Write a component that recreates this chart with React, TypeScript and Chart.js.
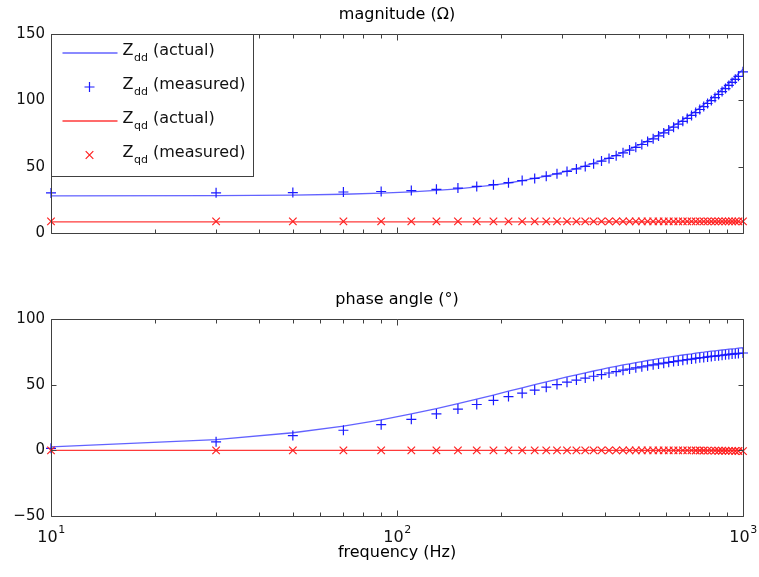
import React, { useEffect, useRef } from "react";
import { Chart, registerables } from "chart.js";

Chart.register(...registerables);

// ---------------- data ----------------
const freqHz = [10, 30, 50, 70, 90, 110, 130, 150, 170, 190, 210, 230, 250, 270, 290, 310, 330, 350, 370, 390, 410, 430, 450, 470, 490, 510, 530, 550, 570, 590, 610, 630, 650, 670, 690, 710, 730, 750, 770, 790, 810, 830, 850, 870, 890, 910, 930, 950, 970, 1000];

const zddMagActual = [28.0, 28.2, 28.6, 29.2, 30.0, 31.0, 32.1, 33.3, 34.7, 36.1, 37.7, 39.4, 41.1, 42.9, 44.7, 46.6, 48.6, 50.6, 52.6, 54.6, 56.7, 58.8, 60.9, 63.1, 65.3, 67.4, 69.6, 71.8, 74.1, 76.3, 78.5, 80.8, 83.1, 85.3, 87.6, 89.9, 92.2, 94.5, 96.8, 99.1, 101.4, 103.7, 106.0, 108.3, 110.7, 113.0, 115.3, 117.7, 120.0, 123.5];
const zddMagMeasured = [30.2, 30.3, 30.5, 30.9, 31.3, 32.0, 32.9, 33.9, 35.1, 36.4, 37.9, 39.5, 41.1, 42.8, 44.6, 46.4, 48.3, 50.2, 52.2, 54.2, 56.2, 58.3, 60.4, 62.5, 64.6, 66.7, 68.9, 71.0, 73.2, 75.4, 77.6, 79.8, 82.0, 84.2, 86.4, 88.6, 90.8, 93.1, 95.3, 97.6, 99.8, 102.1, 104.4, 106.6, 108.9, 111.2, 113.5, 115.8, 118.1, 121.5];
const zqdMagActual = [8.4, 8.4, 8.4, 8.4, 8.4, 8.4, 8.4, 8.4, 8.4, 8.4, 8.4, 8.4, 8.4, 8.4, 8.4, 8.4, 8.4, 8.4, 8.4, 8.4, 8.4, 8.4, 8.4, 8.4, 8.4, 8.4, 8.4, 8.4, 8.4, 8.4, 8.4, 8.4, 8.4, 8.4, 8.4, 8.4, 8.4, 8.4, 8.4, 8.4, 8.4, 8.4, 8.4, 8.4, 8.4, 8.4, 8.4, 8.4, 8.4, 8.4];
const zqdMagMeasured = [8.8, 8.8, 8.8, 8.8, 8.8, 8.8, 8.8, 8.8, 8.8, 8.8, 8.8, 8.8, 8.8, 8.8, 8.8, 8.8, 8.8, 8.8, 8.8, 8.8, 8.8, 8.8, 8.8, 8.8, 8.8, 8.8, 8.8, 8.8, 8.8, 8.8, 8.8, 8.8, 8.8, 8.8, 8.8, 8.8, 8.8, 8.8, 8.8, 8.8, 8.8, 8.8, 8.8, 8.8, 8.8, 8.8, 8.8, 8.8, 8.8, 8.8];

const zddPhaseActual = [2.7, 8.1, 13.4, 18.4, 23.2, 27.7, 31.8, 35.5, 39.0, 42.1, 45.0, 47.6, 50.0, 52.1, 54.1, 55.9, 57.5, 59.0, 60.4, 61.7, 62.9, 64.0, 65.0, 65.9, 66.8, 67.6, 68.4, 69.1, 69.8, 70.4, 71.0, 71.6, 72.1, 72.6, 73.1, 73.5, 74.0, 74.4, 74.7, 75.1, 75.5, 75.8, 76.1, 76.4, 76.7, 77.0, 77.3, 77.5, 77.8, 78.1];
const zddPhaseMeasured = [1.5, 6.5, 11.2, 15.3, 19.5, 23.6, 27.7, 31.4, 34.9, 38.1, 40.9, 43.5, 45.9, 48.1, 50.1, 51.9, 53.5, 55.0, 56.4, 57.7, 58.9, 60.0, 61.0, 61.9, 62.8, 63.6, 64.4, 65.1, 65.8, 66.4, 67.0, 67.6, 68.1, 68.6, 69.1, 69.5, 70.0, 70.4, 70.7, 71.1, 71.5, 71.8, 72.1, 72.4, 72.7, 73.0, 73.3, 73.5, 73.8, 74.1];
const zqdPhaseActual = [0, 0, 0, 0, 0, 0, 0, 0, 0, 0, 0, 0, 0, 0, 0, 0, 0, 0, 0, 0, 0, 0, 0, 0, 0, 0, 0, 0, 0, 0, 0, 0, 0, 0, 0, 0, 0, 0, 0, 0, 0, 0, 0, 0, 0, 0, 0, 0, 0, 0];
const zqdPhaseMeasured = [0, 0, 0, 0, 0, 0, 0, 0, 0, 0, 0, 0, 0, 0, 0, 0, 0, 0, 0, 0, 0, 0, 0, 0, 0, 0, 0, 0, 0, 0, 0, 0, 0, 0, 0, 0, -0.1, -0.1, -0.1, -0.2, -0.2, -0.2, -0.3, -0.3, -0.3, -0.4, -0.4, -0.5, -0.5, -0.6];

const magTicks = [0, 50, 100, 150];
const phaseTicks = [-50, 0, 50, 100];
const xMajorTicks = [10, 100, 1000];
const xMajorExponents = ["1", "2", "3"];
const xMinorTicks = [20, 30, 40, 50, 60, 70, 80, 90, 200, 300, 400, 500, 600, 700, 800, 900];

const magTitle = "magnitude (\u03A9)";
const phaseTitle = "phase angle (\u00B0)";
const xAxisTitle = "frequency (Hz)";
const legendItems = [
  { base: "Z", sub: "dd", rest: " (actual)" },
  { base: "Z", sub: "dd", rest: " (measured)" },
  { base: "Z", sub: "qd", rest: " (actual)" },
  { base: "Z", sub: "qd", rest: " (measured)" },
];

// ---------------- styles ----------------
const FONT = '"DejaVu Sans", "Liberation Sans", Arial, sans-serif';
const BLUE_LINE = "rgba(70,70,255,0.85)";
const BLUE_MARK = "#1a1aff";
const RED_LINE = "#ff3a3a";
const RED_MARK = "#ff2020";
const AXIS_COLOR = "#404040";

const W = 759;
const TOP_H = 270;
const BOT_H = 307;

function pts(ys: number[]) {
  return freqHz.map((f, i) => ({ x: f, y: ys[i] }));
}

function makeDatasets(a: number[], b: number[], c: number[], d: number[]) {
  return [
    { label: "Zdd (actual)", data: pts(a), borderColor: BLUE_LINE, borderWidth: 1.3, pointRadius: 0, showLine: true, tension: 0, order: 4, clip: false },
    { label: "Zdd (measured)", data: pts(b), borderColor: BLUE_MARK, backgroundColor: BLUE_MARK, borderWidth: 1.2, pointStyle: "cross", pointRadius: 5, pointBorderWidth: 1.2, showLine: false, order: 3, clip: false },
    { label: "Zqd (actual)", data: pts(c), borderColor: RED_LINE, borderWidth: 1.3, pointRadius: 0, showLine: true, tension: 0, order: 2, clip: false },
    { label: "Zqd (measured)", data: pts(d), borderColor: RED_MARK, backgroundColor: RED_MARK, borderWidth: 1.2, pointStyle: "crossRot", pointRadius: 5.3, pointBorderWidth: 1.2, showLine: false, order: 1, clip: false },
  ];
}

function drawMarker(ctx: CanvasRenderingContext2D, kind: string, x: number, y: number, color: string) {
  ctx.save();
  ctx.strokeStyle = color;
  ctx.lineWidth = 1.2;
  ctx.beginPath();
  if (kind === "cross") {
    ctx.moveTo(x - 5, y); ctx.lineTo(x + 5, y);
    ctx.moveTo(x, y - 5); ctx.lineTo(x, y + 5);
  } else {
    const r = 3.8;
    ctx.moveTo(x - r, y - r); ctx.lineTo(x + r, y + r);
    ctx.moveTo(x - r, y + r); ctx.lineTo(x + r, y - r);
  }
  ctx.stroke();
  ctx.restore();
}

function matlabPlugin(title: string, withLegend: boolean, withXLabels: boolean) {
  return {
    id: "matlabAxes",
    afterDraw(chart: any) {
      const ctx: CanvasRenderingContext2D = chart.ctx;
      const a = chart.chartArea;
      const xs = chart.scales.x;
      const ys = chart.scales.y;
      ctx.save();
      // box
      ctx.strokeStyle = AXIS_COLOR;
      ctx.lineWidth = 1;
      const L = Math.round(a.left) + 0.5;
      const R = Math.round(a.right) + 0.5;
      const T = Math.round(a.top) + 0.5;
      const B = Math.round(a.bottom) + 0.5;
      ctx.beginPath();
      ctx.rect(L, T, R - L, B - T);
      ctx.stroke();
      // x ticks (inward, top and bottom)
      ctx.beginPath();
      const xt = (v: number, len: number) => {
        const px = Math.round(xs.getPixelForValue(v)) + 0.5;
        ctx.moveTo(px, B); ctx.lineTo(px, B - len);
        ctx.moveTo(px, T); ctx.lineTo(px, T + len);
      };
      xMinorTicks.forEach((v) => xt(v, 4));
      xMajorTicks.forEach((v) => xt(v, 6));
      // y ticks (inward, left and right)
      const yTickVals: number[] = chart.options.scales.y.ticksList;
      yTickVals.forEach((v) => {
        const py = Math.round(ys.getPixelForValue(v)) + 0.5;
        ctx.moveTo(L, py); ctx.lineTo(L + 5, py);
        ctx.moveTo(R, py); ctx.lineTo(R - 5, py);
      });
      ctx.stroke();

      // title
      ctx.fillStyle = "#000";
      ctx.font = `16px ${FONT}`;
      ctx.textAlign = "center";
      ctx.textBaseline = "middle";
      ctx.fillText(title, (a.left + a.right) / 2, a.top - 19);

      if (withXLabels) {
        ctx.fillStyle = "#111";
        xMajorTicks.forEach((v, i) => {
          const px = xs.getPixelForValue(v);
          ctx.font = `16px ${FONT}`;
          const w1 = ctx.measureText("10").width;
          ctx.font = `11px ${FONT}`;
          const w2 = ctx.measureText(xMajorExponents[i]).width;
          const start = px - (w1 + w2) / 2;
          ctx.textAlign = "left";
          ctx.textBaseline = "middle";
          ctx.font = `16px ${FONT}`;
          ctx.fillText("10", start, a.bottom + 22);
          ctx.font = `11px ${FONT}`;
          ctx.fillText(xMajorExponents[i], start + w1 + 0.5, a.bottom + 14);
        });
        ctx.font = `16px ${FONT}`;
        ctx.textAlign = "center";
        ctx.textBaseline = "middle";
        ctx.fillStyle = "#000";
        ctx.fillText(xAxisTitle, (a.left + a.right) / 2, a.bottom + 37);
      }

      if (withLegend) {
        const lx = L;
        const ly = T;
        const lw = 202;
        const lh = 142;
        ctx.fillStyle = "#fff";
        ctx.fillRect(lx, ly, lw, lh);
        ctx.strokeStyle = AXIS_COLOR;
        ctx.lineWidth = 1;
        ctx.strokeRect(lx, ly, lw, lh);
        const rows = [16, 50, 84, 118];
        const ds = chart.data.datasets;
        legendItems.forEach((it, i) => {
          const cy = ly + rows[i];
          const d = ds[i];
          if (d.showLine) {
            ctx.strokeStyle = d.borderColor;
            ctx.lineWidth = d.borderWidth;
            ctx.beginPath();
            ctx.moveTo(lx + 11, cy + 2.5);
            ctx.lineTo(lx + 66, cy + 2.5);
            ctx.stroke();
          } else {
            drawMarker(ctx, d.pointStyle, lx + 38, cy + 2.5, d.borderColor);
          }
          ctx.fillStyle = "#111";
          ctx.textAlign = "left";
          ctx.textBaseline = "middle";
          let tx = lx + 71;
          ctx.font = `16px ${FONT}`;
          ctx.fillText(it.base, tx, cy);
          tx += ctx.measureText(it.base).width + 0.5;
          ctx.font = `11px ${FONT}`;
          ctx.fillText(it.sub, tx, cy + 8);
          tx += ctx.measureText(it.sub).width;
          ctx.font = `16px ${FONT}`;
          ctx.fillText(it.rest, tx, cy);
        });
      }
      ctx.restore();
    },
  };
}

function makeConfig(datasets: any[], yMin: number, yMax: number, yTicks: number[], padTop: number, padBottom: number, plugin: any) {
  return {
    type: "line" as const,
    data: { datasets },
    options: {
      animation: false,
      responsive: false,
      events: [],
      layout: { padding: { top: padTop, bottom: padBottom, left: 0, right: W - 743 } },
      plugins: { legend: { display: false }, tooltip: { enabled: false }, title: { display: false } },
      scales: {
        x: { type: "logarithmic", min: 10, max: 1000, display: false },
        y: {
          type: "linear",
          min: yMin,
          max: yMax,
          ticksList: yTicks,
          afterBuildTicks: (s: any) => { s.ticks = yTicks.map((v) => ({ value: v })); },
          afterFit: (s: any) => { s.width = 51; },
          grid: { display: false, drawTicks: false },
          border: { display: false },
          ticks: {
            padding: 6,
            color: "#111",
            font: { family: FONT, size: 15 },
            callback: (v: any) => (v < 0 ? "\u2212" + Math.abs(v) : String(v)),
          },
        },
      },
    },
    plugins: [plugin],
  };
}

export default function App() {
  const magRef = useRef<HTMLCanvasElement>(null);
  const phRef = useRef<HTMLCanvasElement>(null);

  useEffect(() => {
    const c1 = new Chart(
      magRef.current as HTMLCanvasElement,
      makeConfig(
        makeDatasets(zddMagActual, zddMagMeasured, zqdMagActual, zqdMagMeasured),
        0, 150, magTicks, 34, TOP_H - 233,
        matlabPlugin(magTitle, true, false)
      ) as any
    );
    const c2 = new Chart(
      phRef.current as HTMLCanvasElement,
      makeConfig(
        makeDatasets(zddPhaseActual, zddPhaseMeasured, zqdPhaseActual, zqdPhaseMeasured),
        -50, 100, phaseTicks, 319 - TOP_H, TOP_H + BOT_H - 516,
        matlabPlugin(phaseTitle, false, true)
      ) as any
    );
    return () => {
      c1.destroy();
      c2.destroy();
    };
  }, []);

  return (
    <div style={{ position: "absolute", left: 0, top: 0, width: W, height: 577, background: "#fff" }}>
      <canvas ref={magRef} width={W} height={TOP_H} style={{ position: "absolute", left: 0, top: 0, width: W, height: TOP_H }} />
      <canvas ref={phRef} width={W} height={BOT_H} style={{ position: "absolute", left: 0, top: TOP_H, width: W, height: BOT_H }} />
    </div>
  );
}
